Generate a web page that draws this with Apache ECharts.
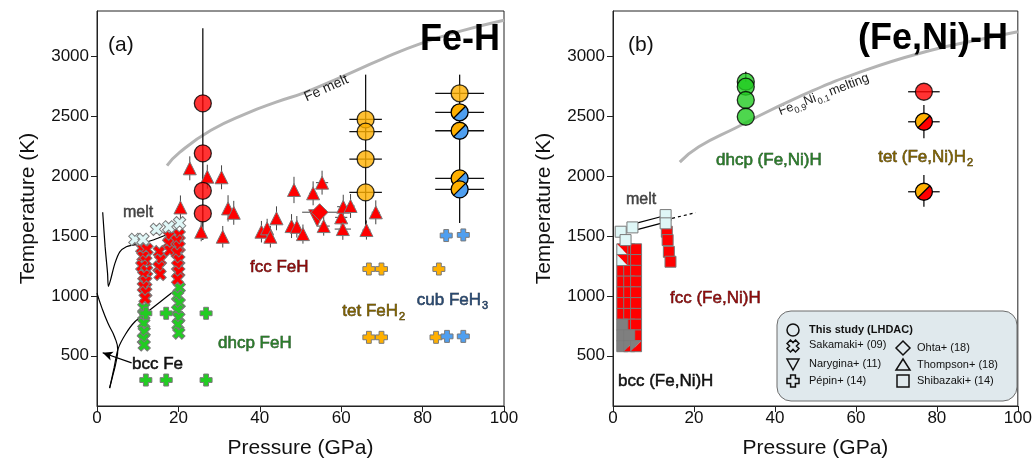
<!DOCTYPE html>
<html><head><meta charset="utf-8">
<script src="https://cdn.jsdelivr.net/npm/echarts@6/dist/echarts.min.js"></script>
<style>html,body{margin:0;padding:0;background:#fff}#c{width:1035px;height:466px}</style>
</head><body><div id="c"></div>
<script>
const FONT = '"Liberation Sans", Arial, Helvetica, sans-serif';

// ---- axes ----
const xTicks = [0, 20, 40, 60, 80, 100];
const yTicks = [500, 1000, 1500, 2000, 2500, 3000];

// ---- panel (a) Fe-H ----
const feMelt = [[17.2,2090],[20.3,2200],[28,2385],[36.8,2527],[44,2620],[51,2700],[60,2830],[70,2980],[80,3115],[90,3220],[100,3305]];
const meltLineA = [[1.4,1700],[2.0,1410],[2.6,1187],[2.8,1080],[3.3,1130],[4.4,1272],[5.6,1369],[7.2,1411],[8.8,1425],[11,1440],[14,1470],[17,1510],[19.5,1545]];
const bccLine = [[0,1024],[1.2,900],[2.7,771],[4.3,659],[5.1,548],[4.7,450],[4.0,350],[3.1,230]];
const bccFccLine = [[3.1,230],[4.2,400],[5.2,560],[7,680],[9.3,784],[12.5,870],[15.5,950],[18.7,1035]];

const sakRed = [[11,1400],[12.3,1390],[11.3,1330],[12,1290],[11,1250],[12.2,1210],[11.5,1170],[12,1120],[11.4,1075],[12,1030],[11.8,980],
  [15.3,1370],[15.6,1300],[15.2,1240],[15.5,1180],
  [17.8,1500],[17.6,1440],[17.9,1380],
  [20.2,1510],[19.6,1460],[20.2,1410],[19.7,1360],[20.1,1300],[19.8,1250],[20.1,1200],[19.8,1140]];
const sakGreen = [[11.5,900],[11.5,840],[11.5,770],[11.6,700],[11.4,640],[11.6,590],
  [20.2,1070],[19.8,1000],[20.2,940],[19.8,880],[20.1,820],[19.9,760],[20.1,690]];
const sakCyan = [[9.3,1473],[11.3,1473],[14.6,1557],[17.6,1578],[20.3,1612]];

const pepinGreen = [[12,855],[17,855],[26.8,855],[12,297],[17,297],[26.8,297]];
const pepinOrange = [[66.8,1225],[69.9,1225],[84,1225],[66.8,654],[69.9,654],[83.3,654]];
const pepinBlue = [[86,662],[90,662],[85.8,1505],[90,1510]];

// Thompson+ (18): [P, T, dP, dT]
const thompson = [[20.5,1740,0,100],[22.8,2067,0,100],[25.6,1537,0,80],[27.1,1997,0,100],[30.6,1992,0,100],[30.9,1495,0,90],
  [32.2,1732,0,110],[33.6,1695,0,100],[40.4,1537,0,90],[41.8,1565,0,80],[42.6,1495,0,90],[44.1,1649,0,100],
  [47.8,1584,0,100],[48.4,1886,0,110],[49.1,1578,0,90],[50.6,1517,0,80],[53.1,1858,1,100],[55.3,1947,1.5,100],
  [55.7,1584,1.5,80],[60.0,1657,1.5,90],[60.4,1559,2,90],[60.5,1746,1.5,100],[62.3,1752,1,100],[66.2,1551,1,80],[68.5,1699,1,100]];
const ohta = [[54.7,1700,4.3,0]];
const narygina = [[54.1,1650]];

// This study (LHDAC), panel (a)
const lhdacRedA = [[26,2610],[26,2192],[26,1879],[26,1690]];
const lhdacOrangeA = [[66,2476],[66,2373],[66,2144],[66,1866],[89.1,2694]];
const lhdacSplitA = [[89.1,2535],[89.1,2381],[89.1,1983],[89.1,1891]];
const lhdacVErrA = [[26,1467,3237],[66,1495,2850],[89.1,1610,2850]];   // [P, Tlow, Thigh]
const lhdacHErrA = [[66,2476,4],[66,2373,4],[66,2144,4],[66,1866,4],[89.1,2694,6],[89.1,2535,6],[89.1,2381,6],[89.1,1983,6],[89.1,1891,6]]; // [P,T,dP]

// ---- panel (b) (Fe,Ni)-H ----
const feNiMelt = [[16.5,2119],[21.2,2247],[30,2400],[45.9,2665],[62.4,2888],[78.8,3056],[90,3140],[100,3209]];
const lhdacGreenB = [[32.8,2791],[32.8,2749],[32.8,2638],[32.8,2498]];
const lhdacRedB = [[76.8,2707]];
const lhdacSplitB = [[76.8,2456],[76.8,1871]];
const lhdacVErrB = [[32.8,2790,2874],[76.8,2318,2596],[76.8,1746,2011]];
const lhdacHErrB = [[76.8,2707,3.9],[76.8,2456,3.9],[76.8,1871,3.9]];

const shibCyan = [[1.9,1537],[3.1,1467],[4.8,1573],[13,1676],[13,1607]];
const shibRed = [[4.0,1390],[5.7,1390],[2.3,1210],[4.0,1300],[5.7,1300],[2.3,1120],[4.0,1210],[5.7,1210],[2.3,1030],[4.0,1120],[5.7,1120],
  [2.3,940],[4.0,1030],[5.7,1030],[2.3,850],[4.0,940],[5.7,940],[4.0,850],[5.7,850],[4.0,760],[5.7,760],[5.7,670],
  [13.3,1537],[13.5,1467],[13.8,1369],[14.2,1286]];
const shibGray = [[2.3,760],[2.3,670],[4.0,670],[2.3,580]];
const shibSplitCyanRed = [[2.3,1390],[2.3,1300]];
const shibSplitGrayRed = [[4.0,580],[5.7,580]];
const shibLines = [[[5.6,1607],[11.8,1662]],[[6.2,1557],[11.8,1607]]];
const shibDashed = [[14.6,1649],[20.4,1696]];

// ---------- helpers ----------
function segsFromErr(arr){ // [P,T,dP,dT]
  const s=[]; arr.forEach(d=>{ if(d[3]>0) s.push([d[0],d[1]-d[3],d[0],d[1]+d[3]]); if(d[2]>0) s.push([d[0]-d[2],d[1],d[0]+d[2],d[1]]); }); return s; }
function vSegs(arr){ return arr.map(d=>[d[0],d[1],d[0],d[2]]); }
function hSegs(arr){ return arr.map(d=>[d[0]-d[2],d[1],d[0]+d[2],d[1]]); }
function segSeries(data, ai, color, width){
  return {type:'custom', xAxisIndex:ai, yAxisIndex:ai, data:data, z:2, silent:true,
    renderItem:(p,api)=>{const a=api.coord([api.value(0),api.value(1)]); const b=api.coord([api.value(2),api.value(3)]);
      return {type:'line', shape:{x1:a[0],y1:a[1],x2:b[0],y2:b[1]}, style:{stroke:color,lineWidth:width}};}};
}
function splitCircleSeries(data, ai, c1, c2){
  return {type:'custom', xAxisIndex:ai, yAxisIndex:ai, data:data, z:6, silent:true,
    renderItem:(p,api)=>{const c=api.coord([api.value(0),api.value(1)]); const r=8.5, k=r*0.7071;
      return {type:'group', children:[
        {type:'sector', shape:{cx:c[0],cy:c[1],r0:0,r:r,startAngle:Math.PI*0.75,endAngle:Math.PI*1.75,clockwise:true}, style:{fill:c1}},
        {type:'sector', shape:{cx:c[0],cy:c[1],r0:0,r:r,startAngle:-Math.PI*0.25,endAngle:Math.PI*0.75,clockwise:true}, style:{fill:c2}},
        {type:'line', shape:{x1:c[0]-k,y1:c[1]+k,x2:c[0]+k,y2:c[1]-k}, style:{stroke:'#000',lineWidth:1.3}},
        {type:'circle', shape:{cx:c[0],cy:c[1],r:r}, style:{fill:'none',stroke:'#000',lineWidth:1.3}}]};}};
}
function splitSquareSeries(data, ai, cA, cB, mode){
  return {type:'custom', xAxisIndex:ai, yAxisIndex:ai, data:data, z:5, silent:true,
    renderItem:(p,api)=>{const c=api.coord([api.value(0),api.value(1)]); const h=5.5;
      const x0=c[0]-h,x1=c[0]+h,y0=c[1]-h,y1=c[1]+h; let pa,pb;
      if(mode==='LL'){ pa=[[x0,y0],[x0,y1],[x1,y1]]; pb=[[x0,y0],[x1,y0],[x1,y1]]; }
      else { pa=[[x0,y1],[x0,y0],[x1,y0]]; pb=[[x0,y1],[x1,y1],[x1,y0]]; }
      return {type:'group', children:[
        {type:'polygon', shape:{points:pa}, style:{fill:cA}},
        {type:'polygon', shape:{points:pb}, style:{fill:cB}},
        {type:'rect', shape:{x:x0,y:y0,width:2*h,height:2*h}, style:{fill:'none',stroke:'#7a7a7a',lineWidth:1}}]};}};
}
const PLUS = 'path://M3 0H7V3H10V7H7V10H3V7H0V3H3Z';
const XS = 'path://M3.3 0H6.7V3.3H10V6.7H6.7V10H3.3V6.7H0V3.3H3.3Z';
function sc(data, ai, sym, size, color, border, extra){
  return Object.assign({type:'scatter', xAxisIndex:ai, yAxisIndex:ai, data:data, symbol:sym, symbolSize:size, silent:true, z:4,
    itemStyle:{color:color, borderColor:border, borderWidth:1, opacity:1}}, extra||{});
}
function ln(data, ai, color, width, extra){
  return Object.assign({type:'line', xAxisIndex:ai, yAxisIndex:ai, data:data, smooth:true, symbol:'none', silent:true, z:1,
    lineStyle:{color:color, width:width}}, extra||{});
}

// ---------- axes ----------
function xAx(gi){ return {gridIndex:gi, type:'value', min:0, max:100, interval:20,
  name:'Pressure (GPa)', nameLocation:'middle', nameGap:32, nameTextStyle:{fontFamily:FONT,fontSize:21,color:'#111'},
  axisLine:{show:true,lineStyle:{color:'#222',width:1}}, axisTick:{show:true,inside:false,length:6,lineStyle:{color:'#222'}},
  axisLabel:{fontFamily:FONT,fontSize:17,color:'#111',margin:4,formatter:v=>String(v)}, splitLine:{show:false}}; }
function yAx(gi){ return {gridIndex:gi, type:'value', min:80, max:3382,
  name:'Temperature (K)', nameLocation:'middle', nameGap:58, nameTextStyle:{fontFamily:FONT,fontSize:21,color:'#111'},
  axisLine:{show:true,lineStyle:{color:'#222',width:1}},
  axisTick:{show:true,inside:false,length:6,lineStyle:{color:'#222'},customValues:yTicks},
  axisLabel:{fontFamily:FONT,fontSize:17,color:'#111',margin:8,customValues:yTicks,formatter:v=>String(v)}, splitLine:{show:false}}; }

// ---------- text / legend graphics ----------
function txt(x,y,t,size,color,opt){ return Object.assign({type:'text', x:x, y:y, z:50, silent:true,
  style:Object.assign({text:t, fontFamily:FONT, fontSize:size, fill:color, align:'left', verticalAlign:'middle'}, opt||{})}); }
function lbl(x,y,t,size,fill,stroke,align){ return txt(x,y,t,size,fill,{align:align||'left', stroke:stroke, lineWidth:0.5}); }

function plusPts(cx,cy,s,rot){ const a=s*0.2, b=s*0.5; const raw=[[-a,-b],[a,-b],[a,-a],[b,-a],[b,a],[a,a],[a,b],[-a,b],[-a,a],[-b,a],[-b,-a],[-a,-a]];
  const c=Math.cos(rot), sn=Math.sin(rot); return raw.map(p=>[cx+p[0]*c-p[1]*sn, cy+p[0]*sn+p[1]*c]); }
const LS = {fill:'none', stroke:'#111', lineWidth:1.5};
const legendSym = [
  {type:'circle', shape:{cx:793,cy:330,r:6}, style:LS},
  {type:'polygon', shape:{points:plusPts(793,346,12,Math.PI/4)}, style:LS},
  {type:'polygon', shape:{points:[[787,359],[799,359],[793,370]]}, style:LS},
  {type:'polygon', shape:{points:plusPts(793,381,12,0)}, style:LS},
  {type:'polygon', shape:{points:[[903,341],[910,348],[903,355],[896,348]]}, style:LS},
  {type:'polygon', shape:{points:[[903,359],[910,370],[896,370]]}, style:LS},
  {type:'rect', shape:{x:897,y:375,width:12,height:12}, style:LS}
].map(e=>Object.assign({z:51,silent:true},e));

const C_FCC=['#8e0a0a','#3a0000'], C_DHCP=['#2a7d2a','#0b2e0b'], C_TET=['#7d6000','#2b2000'], C_CUB=['#284870','#0b1a2c'];

const graphics = [
  // panel (a)
  txt(108,45,'(a)',21,'#111'),
  txt(500,40,'Fe-H',36,'#000',{align:'right',fontWeight:'bold'}),
  {type:'text', x:305, y:98, rotation:0.42, z:50, silent:true, style:{text:'Fe melt', fontFamily:FONT, fontSize:14, fill:'#222', align:'left', verticalAlign:'middle'}},
  txt(123,213,'melt',16,'#444',{stroke:'#222',lineWidth:0.4}),
  lbl(250,267,'fcc FeH',17,C_FCC[0],C_FCC[1]),
  lbl(218,343,'dhcp FeH',17,C_DHCP[0],C_DHCP[1]),
  lbl(398,311,'tet FeH',17,C_TET[0],C_TET[1],'right'),
  lbl(399,317,'2',11,C_TET[0],C_TET[1]),
  lbl(481,300,'cub FeH',17,C_CUB[0],C_CUB[1],'right'),
  lbl(482,306,'3',11,C_CUB[0],C_CUB[1]),
  lbl(132,364,'bcc Fe',17,'#111','#111'),
  // panel (b)
  txt(628,45,'(b)',21,'#111'),
  txt(1008,39,'(Fe,Ni)-H',36,'#000',{align:'right',fontWeight:'bold'}),
  {type:'group', x:779, y:112, rotation:0.37, z:50, silent:true, children:[
    {type:'text', x:0, y:0, style:{text:'Fe', fontFamily:FONT, fontSize:13, fill:'#222', verticalAlign:'middle'}},
    {type:'text', x:15, y:5, style:{text:'0.9', fontFamily:FONT, fontSize:9, fill:'#222', verticalAlign:'middle'}},
    {type:'text', x:27, y:0, style:{text:'Ni', fontFamily:FONT, fontSize:13, fill:'#222', verticalAlign:'middle'}},
    {type:'text', x:40, y:5, style:{text:'0.1', fontFamily:FONT, fontSize:9, fill:'#222', verticalAlign:'middle'}},
    {type:'text', x:54, y:0, style:{text:'melting', fontFamily:FONT, fontSize:13, fill:'#222', verticalAlign:'middle'}}]},
  txt(626,200,'melt',16,'#444',{stroke:'#222',lineWidth:0.4}),
  lbl(716,160,'dhcp (Fe,Ni)H',17,C_DHCP[0],C_DHCP[1]),
  lbl(966,157,'tet (Fe,Ni)H',17,C_TET[0],C_TET[1],'right'),
  lbl(967,163,'2',11,C_TET[0],C_TET[1]),
  lbl(670,298,'fcc (Fe,Ni)H',17,C_FCC[0],C_FCC[1]),
  lbl(618,381,'bcc (Fe,Ni)H',17,'#111','#111'),
  // legend
  {type:'rect', shape:{x:777,y:311,width:240,height:90,r:14}, style:{fill:'#e0e9ed',stroke:'#6d6d6d',lineWidth:1}, z:49, silent:true},
  txt(809,330,'This study (LHDAC)',11,'#111',{fontWeight:'bold'}),
  txt(809,345,'Sakamaki+ (09)',11,'#111'),
  txt(809,364,'Narygina+ (11)',11,'#111'),
  txt(809,381,'Pépin+ (14)',11,'#111'),
  txt(917,348,'Ohta+ (18)',11,'#111'),
  txt(917,365,'Thompson+ (18)',11,'#111'),
  txt(917,381,'Shibazaki+ (14)',11,'#111')
].concat(legendSym);

// ---------- colours ----------
const RED='#ff0000', ORANGE='#ffb000', BLUE='#4f9ff0', GREEN='#22cc22', CYAN='#dff7f7', GRAYSQ='#7f7f7f', MARKB='#7a7a7a';

const bccArrowSeries = ln(bccLine,0,'#000',1.2,{smooth:0.5,
  markLine:{silent:true, symbol:['none','arrow'], symbolSize:[7,10], animation:false, label:{show:false},
    lineStyle:{color:'#000',width:1.2,type:'solid'}, data:[[{coord:[8.5,440]},{coord:[1.4,525]}]]}});

const series = [
  // ---- (a)
  ln(feMelt,0,'#b4b4b4',3),
  ln(meltLineA,0,'#000',1.2,{smooth:0.3}),
  bccArrowSeries,
  ln(bccFccLine,0,'#000',1.2,{smooth:0.3}),
  segSeries(segsFromErr(thompson),0,'#444',1),
  segSeries(segsFromErr(ohta),0,'#444',1),
  segSeries(vSegs(lhdacVErrA).concat(hSegs(lhdacHErrA)),0,'#111',1.3),
  sc(sakGreen,0,XS,13,GREEN,MARKB,{symbolRotate:45}),
  sc(sakRed,0,XS,13,RED,MARKB,{symbolRotate:45}),
  sc(sakCyan,0,XS,13,CYAN,MARKB,{symbolRotate:45}),
  sc(pepinGreen,0,PLUS,12,GREEN,MARKB),
  sc(pepinOrange,0,PLUS,12,ORANGE,MARKB),
  sc(pepinBlue,0,PLUS,12,BLUE,MARKB),
  sc(thompson.map(d=>[d[0],d[1]]),0,'triangle',13,RED,MARKB),
  sc(narygina,0,'triangle',17,RED,MARKB,{symbolRotate:180}),
  sc(ohta.map(d=>[d[0],d[1]]),0,'diamond',17,RED,MARKB),
  sc(lhdacRedA,0,'circle',17,RED,'#000',{z:6,itemStyle:{color:RED,borderColor:'#000',borderWidth:1.3}}),
  sc(lhdacOrangeA,0,'circle',17,ORANGE,'#000',{z:6,itemStyle:{color:ORANGE,borderColor:'#000',borderWidth:1.3}}),
  splitCircleSeries(lhdacSplitA,0,ORANGE,BLUE),
  // ---- (b)
  ln(feNiMelt,1,'#b4b4b4',3),
  ln(shibLines[0],1,'#000',1.2,{smooth:false}),
  ln(shibLines[1],1,'#000',1.2,{smooth:false}),
  ln(shibDashed,1,'#000',1.2,{smooth:false,lineStyle:{color:'#000',width:1.2,type:[3,3]}}),
  segSeries(vSegs(lhdacVErrB).concat(hSegs(lhdacHErrB)),1,'#111',1.3),
  sc(shibRed,1,'rect',11,RED,MARKB),
  sc(shibGray,1,'rect',11,GRAYSQ,MARKB),
  splitSquareSeries(shibSplitCyanRed,1,CYAN,RED,'LL'),
  splitSquareSeries(shibSplitGrayRed,1,GRAYSQ,RED,'UL'),
  sc(shibCyan,1,'rect',11,CYAN,MARKB,{z:5}),
  sc(lhdacGreenB,1,'circle',17,GREEN,'#000',{z:6,itemStyle:{color:GREEN,borderColor:'#000',borderWidth:1.3}}),
  sc(lhdacRedB,1,'circle',17,RED,'#000',{z:6,itemStyle:{color:RED,borderColor:'#000',borderWidth:1.3}}),
  splitCircleSeries(lhdacSplitB,1,ORANGE,RED)
];

const chart = echarts.init(document.getElementById('c'), null, {renderer:'canvas'});
chart.setOption({
  animation:false,
  backgroundColor:'#fff',
  grid:[{left:97,top:11,width:407,height:395,show:true,borderColor:'#222',borderWidth:1,backgroundColor:'transparent'},
        {left:613,top:11,width:406,height:395,show:true,borderColor:'#222',borderWidth:1,backgroundColor:'transparent'}],
  xAxis:[xAx(0),xAx(1)],
  yAxis:[yAx(0),yAx(1)],
  series:series,
  graphic:{elements:graphics}
});
</script></body></html>
